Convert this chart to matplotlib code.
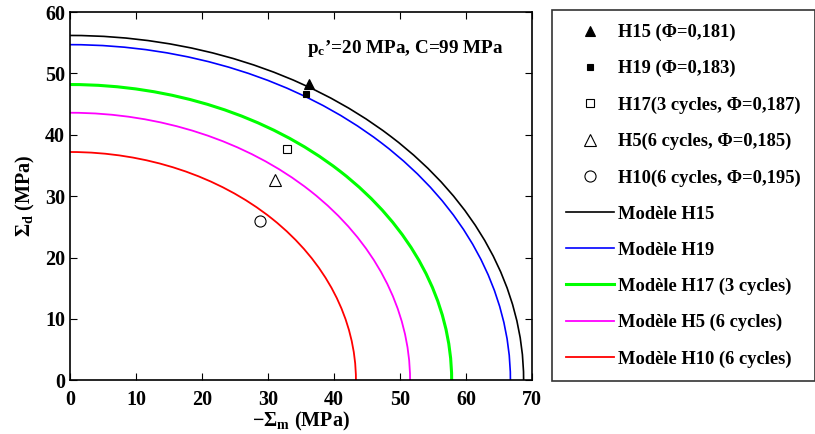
import matplotlib
matplotlib.use('Agg')
from matplotlib import pyplot as plt
from matplotlib.patches import Arc
from matplotlib.lines import Line2D

plt.rcParams['font.family'] = 'Liberation Serif'
plt.rcParams['font.weight'] = 'bold'
plt.rcParams['axes.labelweight'] = 'bold'
plt.rcParams['mathtext.fontset'] = 'custom'
plt.rcParams['mathtext.rm'] = 'Liberation Serif:bold'
plt.rcParams['mathtext.it'] = 'Liberation Serif:bold'
plt.rcParams['mathtext.bf'] = 'Liberation Serif:bold'

# essais
essais = ['H15 (\u03a6=0,181)', 'H19 (\u03a6=0,183)', 'H17(3 cycles, \u03a6=0,187)',
          'H5(6 cycles, \u03a6=0,185)', 'H10(6 cycles, \u03a6=0,195)']
sig_m = [36.2, 35.7, 32.9, 31.0, 28.8]
sig_d = [48.3, 46.6, 37.7, 32.6, 25.9]

# modeles (intersections avec les axes)
modeles = ['Mod\u00e8le H15', 'Mod\u00e8le H19', 'Mod\u00e8le H17 (3 cycles)',
           'Mod\u00e8le H5 (6 cycles)', 'Mod\u00e8le H10 (6 cycles)']
x_max = [68.7, 66.7, 57.8, 51.5, 43.3]
y_max = [56.2, 54.7, 48.2, 43.6, 37.2]

marqueurs = [('^', 'k', 7), ('s', 'k', 5), ('s', 'none', 6), ('^', 'none', 9), ('o', 'none', 8)]
couleurs = ['#000000', '#0000ff', '#00ff00', '#ff00ff', '#ff0000']
epaisseurs = [1.2, 1.2, 2.2, 1.3, 1.3]

fig = plt.figure(figsize=(8.15, 4.34), dpi=100)
ax = fig.add_axes([0.086, 0.124, 0.567, 0.848])

handles = []
for i in range(len(essais)):
    m, fc, ms = marqueurs[i]
    h, = ax.plot(sig_m[i], sig_d[i], linestyle='none', marker=m, markerfacecolor=fc,
                 markeredgecolor='k', markersize=ms, markeredgewidth=0.8, label=essais[i])
    handles.append(h)

for i in range(len(modeles)):
    arc = Arc((0, 0), 2 * x_max[i], 2 * y_max[i], theta1=0, theta2=90,
              color=couleurs[i], linewidth=epaisseurs[i])
    ax.add_patch(arc)
    handles.append(Line2D([], [], color=couleurs[i], linewidth=epaisseurs[i], label=modeles[i]))

ax.text(35.9, 53.4, "p$_\\mathrm{c}$\u2019=20 MPa, C=99 MPa", fontsize=13.8, fontweight='bold')

ax.set_xlim(0, 70)
ax.set_ylim(0, 60)
ax.set_xticks(range(0, 71, 10))
ax.set_yticks(range(0, 61, 10))
ax.tick_params(direction='in', top=True, right=True, length=5, labelsize=14.5)
ax.tick_params(axis='x', pad=7)
for s in ax.spines.values():
    s.set_linewidth(1.2)

ax.set_xlabel('\u2212$\\Sigma_\\mathrm{m}$ (MPa)', fontsize=14.5, labelpad=0)
ax.set_ylabel('$\\Sigma_\\mathrm{d}$ (MPa)', fontsize=14.5, labelpad=6)

leg = fig.legend(handles=handles, loc='upper left', bbox_to_anchor=(0.677, 0.977),
                 fontsize=13.3, labelspacing=1.03, handlelength=2.6, handletextpad=0.25,
                 borderpad=0.75, borderaxespad=0, fancybox=False, frameon=True)
leg.get_frame().set_edgecolor('k')
leg.get_frame().set_linewidth(1.2)

fig.savefig('out.png', dpi=100)
